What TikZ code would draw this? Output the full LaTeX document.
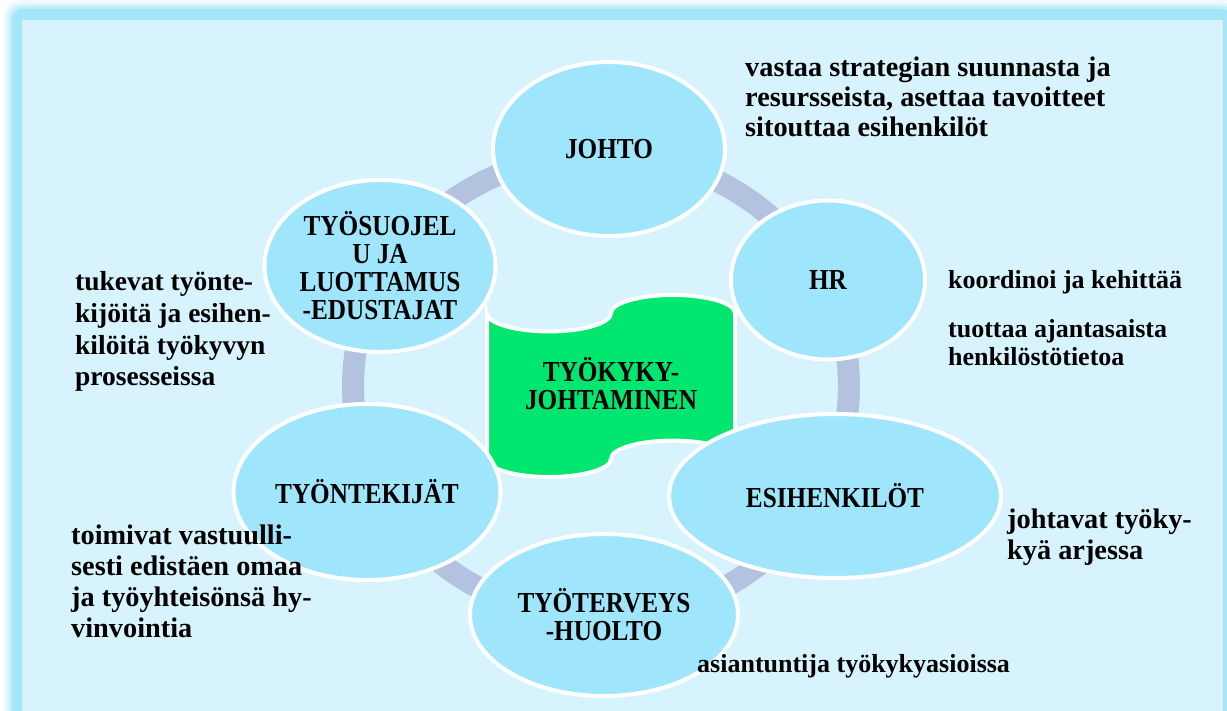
\documentclass[tikz,border=0pt]{standalone}
\usepackage{fontspec}
\setmainfont{Liberation Serif}
\newfontfamily\lblfont{Liberation Serif}[FakeStretch=0.87]
\usetikzlibrary{shapes.geometric}
\definecolor{bgin}{RGB}{215,244,254}
\definecolor{frameband}{RGB}{163,230,249}
\definecolor{ellfill}{RGB}{159,230,252}
\definecolor{ringcol}{RGB}{179,195,223}
\definecolor{greenfill}{RGB}{0,230,110}
\tikzset{
  circ/.style={ellipse, draw=white, line width=4pt, fill=ellfill, inner sep=0pt,
    align=center, font=\lblfont\bfseries\fontsize{29}{28}\selectfont},
  desc/.style={anchor=base west, inner sep=0pt, align=left,
    font=\bfseries\fontsize{28.3}{30.8}\selectfont},
  descsmall/.style={desc, font=\bfseries\fontsize{26}{28}\selectfont},
  tape/.style={fill=greenfill, draw=white, line width=4pt},
  ringline/.style={draw=ringcol, line width=22pt}
}
\begin{document}
\begin{tikzpicture}[x=1pt,y=-1pt]
\useasboundingbox (0,0) rectangle (1227,711);
% background and frame
\fill[white] (0,0) rectangle (1227,711);
\fill[frameband, opacity=0.15, rounded corners=18pt] (3,0) rectangle (1242,735);
\fill[frameband, opacity=0.25, rounded corners=15pt] (6,3) rectangle (1238,730);
\fill[frameband, opacity=0.45, rounded corners=12pt] (9,6) rectangle (1235,727);
\fill[frameband, rounded corners=10pt] (12,9) rectangle (1232,725);
\fill[bgin] (22,20) rectangle (1223,740);
% ring
\draw[ringline] (601,386) ellipse [x radius=248pt, y radius=232pt];
% central tape shape
\path[tape] (487,313.2)
  .. controls (487,323.25) and (514.8,331.4) .. (549,331.4)
  .. controls (583.2,331.4) and (611,323.25) .. (611,313.2)
  .. controls (611,303.15) and (638.8,295) .. (673,295)
  .. controls (707.2,295) and (735,303.15) .. (735,313.2)
  -- (735,458.8)
  .. controls (735,448.75) and (707.2,440.6) .. (673,440.6)
  .. controls (638.8,440.6) and (611,448.75) .. (611,458.8)
  .. controls (611,468.85) and (583.2,477) .. (549,477)
  .. controls (514.8,477) and (487,468.85) .. (487,458.8) -- cycle;
\node[inner sep=0pt, align=center, font=\lblfont\bfseries\fontsize{29}{28}\selectfont] (center) at (611,384) {TYÖKYKY-\\JOHTAMINEN};
% ellipses
\node[circ, minimum width=232pt, minimum height=174pt] (johto) at (609,149) {JOHTO};
\node[circ, minimum width=194pt, minimum height=159pt] (hr) at (828,280) {HR};
\node[circ, minimum width=231pt, minimum height=172pt] (suojelu) at (380,266) {TYÖSUOJEL\\U JA\\LUOTTAMUS\\-EDUSTAJAT};
\node[circ, minimum width=267pt, minimum height=176pt] (tyont) at (367,492) {TYÖNTEKIJÄT};
\node[circ, minimum width=332pt, minimum height=164pt] (esi) at (835,496) {ESIHENKILÖT};
\node[circ, minimum width=268pt, minimum height=162pt] (terv) at (604,615) {TYÖTERVEYS\\-HUOLTO};
% descriptions (anchored at the baseline of the last line)
\node[desc, font=\bfseries\fontsize{28.3}{30}\selectfont] (tjohto) at (745,137) {vastaa strategian suunnasta ja\\resursseista, asettaa tavoitteet\\sitouttaa esihenkilöt};
\node[descsmall] (thr1) at (948,289) {koordinoi ja kehittää};
\node[descsmall] (thr2) at (948,366) {tuottaa ajantasaista\\henkilöstötietoa};
\node[desc, font=\bfseries\fontsize{27.5}{31.8}\selectfont] (tsuoj) at (75,386) {tukevat työnte-\\kijöitä ja esihen-\\kilöitä työkyvyn\\prosesseissa};
\node[desc] (ttyont) at (71,637) {toimivat vastuulli-\\sesti edistäen omaa\\ja työyhteisönsä hy-\\vinvointia};
\node[desc] (tesi) at (1007,559) {johtavat työky-\\kyä arjessa};
\node[descsmall] (tterv) at (697,672) {asiantuntija työkykyasioissa};
\end{tikzpicture}
\end{document}
